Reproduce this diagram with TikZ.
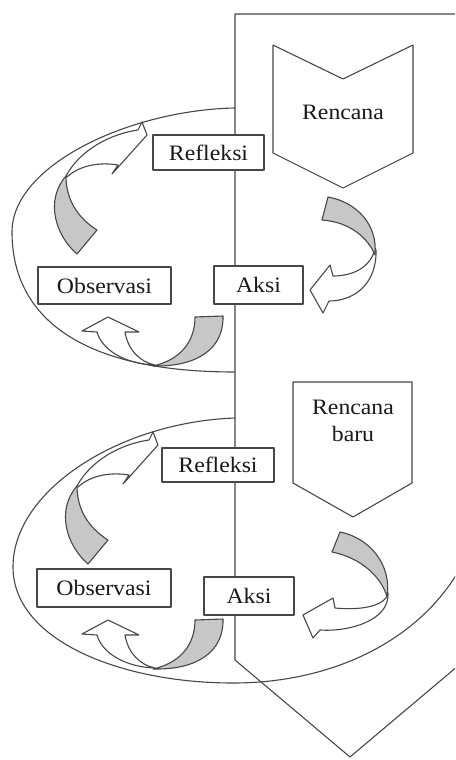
\documentclass[tikz,border=0pt]{standalone}
\usepackage{fontspec}
\setmainfont[FakeStretch=1.08]{Liberation Serif}
\begin{document}
\begin{tikzpicture}[x=1pt,y=-1pt,
  ln/.style={draw=black!72,line width=1.1pt,line join=round},
  box/.style={ln,fill=white,inner sep=0pt,font=\fontsize{22}{26}\selectfont,text=black!90},
  gband/.style={ln,fill=black!22},
  wband/.style={ln,fill=white},
  lbl/.style={font=\fontsize{22}{27}\selectfont,inner sep=0pt,text=black!90}]
\useasboundingbox (0,0) rectangle (455,760);
\fill[white] (0,0) rectangle (455,760);
\begin{scope}
\clip (0,0) rectangle (455,760);
% big pentagon arrow
\draw[ln,fill=white] (235,14) -- (470,14) -- (465,660) -- (350,757) -- (235,660) -- cycle;
% plan shapes
\draw[ln,fill=white] (273,45) -- (343,79) -- (413,45) -- (413,153) -- (343,188) -- (273,153) -- cycle;
\node[lbl] (renc) at (343,112) {Rencana};
\draw[ln,fill=white] (293,382) -- (412,382) -- (412,483) -- (353,517) -- (293,483) -- cycle;
\node[lbl,align=center] (rencb) at (353,421) {Rencana\\baru};
% boxes
\node[box,minimum width=111pt,minimum height=35pt] (refl1) at (208.5,152.5) {Refleksi};
\node[box,minimum width=133pt,minimum height=37pt] (obs1) at (104.5,285.5) {Observasi};
\node[box,minimum width=89pt,minimum height=38pt] (aksi1) at (258.5,285) {Aksi};
\node[box,minimum width=112pt,minimum height=34pt] (refl2) at (218,465) {Refleksi};
\node[box,minimum width=134pt,minimum height=38pt] (obs2) at (104,588) {Observasi};
\node[box,minimum width=90pt,minimum height=38pt] (aksi2) at (249,596) {Aksi};
% arrow A (plan -> action), top
\draw[wband] (374,252) .. controls (369,268) and (352,276) .. (333,276) -- (330,265) -- (310,290) -- (323,313) -- (329,301) .. controls (355,301) and (377,283) .. (376,250) -- cycle;
\draw[gband] (328,197) .. controls (356,202) and (378,224) .. (375,255) .. controls (368,238) and (350,222) .. (322,220) -- cycle;
% arrow A bottom
\draw[wband] (386,598) .. controls (378,608) and (355,610) .. (335,608) -- (333,598) -- (303,615) -- (313,638) -- (320,630) .. controls (350,632) and (390,620) .. (388,593) -- cycle;
\draw[gband] (340,532) .. controls (370,538) and (392,565) .. (387,597) .. controls (382,578) and (362,558) .. (332,552) -- cycle;
% arrow B (action -> observation)
\foreach \dy in {0,303}{
\begin{scope}[yshift=-\dy pt]
\draw[wband] (155,365) .. controls (125,364) and (102,350) .. (97,332) -- (82,331) -- (108,317) -- (139,332) -- (125,332) .. controls (128,350) and (140,362) .. (155,365) -- cycle;
\draw[gband] (195,317) -- (223,316) .. controls (224,348) and (198,367) .. (153,366) .. controls (180,360) and (195,342) .. (195,317) -- cycle;
\end{scope}}
% arrow C (observation -> reflection)
\foreach \dx/\dy in {0/0,11/310}{
\begin{scope}[xshift=\dx pt,yshift=-\dy pt]
\draw[wband] (66,176) .. controls (80,150) and (110,134) .. (138,130) -- (142,122) -- (147,135) -- (112,174) -- (118,165) .. controls (100,162) and (80,165) .. (67,177) -- cycle;
\draw[gband] (97,230) -- (77,254) .. controls (55,235) and (45,200) .. (66,176) .. controls (66,200) and (78,218) .. (97,230) -- cycle;
\end{scope}}
% cycle outlines
\draw[ln] (235,108) .. controls (130,110) and (12,165) .. (12,232) .. controls (12,310) and (70,372) .. (235,372);
\draw[ln] (235,418) .. controls (120,422) and (13,490) .. (13,567) .. controls (13,640) and (120,683) .. (233,683) .. controls (350,683) and (445,625) .. (475,535);
\end{scope}
\end{tikzpicture}
\end{document}
